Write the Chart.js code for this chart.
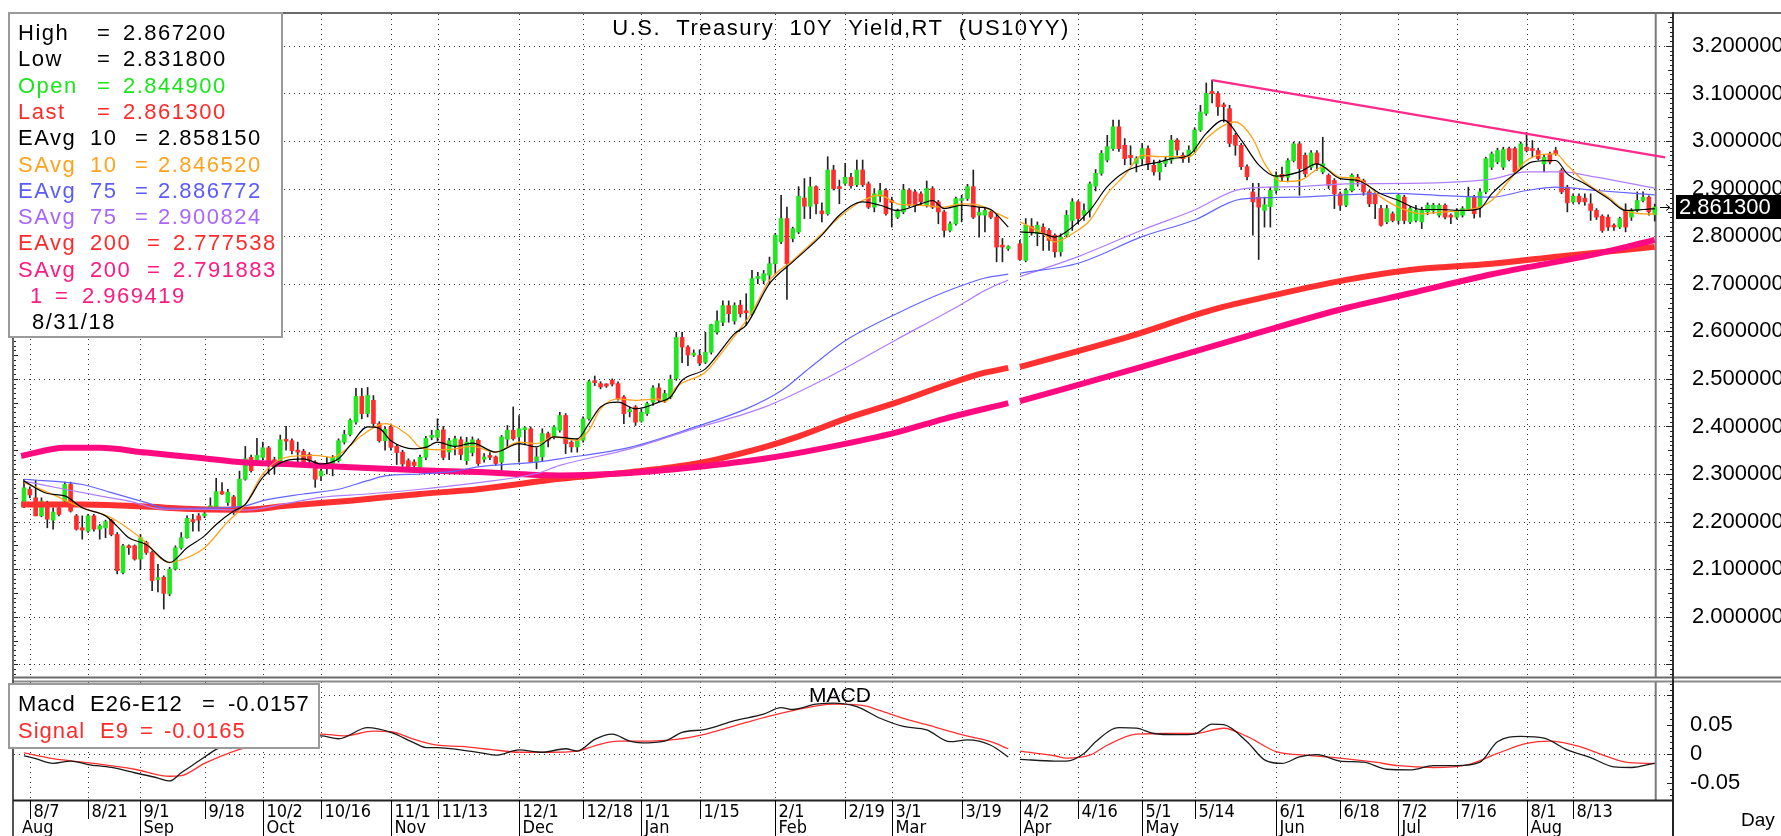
<!DOCTYPE html>
<html>
<head>
<meta charset="utf-8">
<script src="https://cdn.jsdelivr.net/npm/chart.js@4.4.0/dist/chart.umd.min.js"></script>
<style>
html, body { margin: 0; padding: 0; background: #fff; }
#wrap { position: relative; width: 1781px; height: 836px; overflow: hidden; background: #fff; }
canvas { position: absolute; left: 0; }
#main { top: 0; }
#macd { top: 680px; }
</style>
</head>
<body>
<div id="wrap">
  <canvas id="main" width="1781" height="680"></canvas>
  <canvas id="macd" width="1781" height="156"></canvas>
</div>
<script>
// day index 0 = Fri 8/4/2017, one slot per weekday, 280 = 8/31/2018 (170 = 3/30, no data)
var dayTickIdx = [1, 11, 20, 31, 41, 51, 63, 71, 85, 96, 106, 116, 129, 141, 149, 161, 171, 181, 192, 201, 215, 226, 236, 246, 258, 266];
var dayTickLabels = ['8/7', '8/21', '9/1', '9/18', '10/2', '10/16', '11/1', '11/13', '12/1', '12/18', '1/1', '1/15', '2/1', '2/19', '3/1', '3/19', '4/2', '4/16', '5/1', '5/14', '6/1', '6/18', '7/2', '7/16', '8/1', '8/13'];
var monthTickIdx = [-1.7, 20, 41, 63, 85, 106, 129, 149, 171, 192, 215, 236, 258];
var monthLabels = ['Aug', 'Sep', 'Oct', 'Nov', 'Dec', 'Jan', 'Feb', 'Mar', 'Apr', 'May', 'Jun', 'Jul', 'Aug'];
var priceTicks = [2.0, 2.1, 2.2, 2.3, 2.4, 2.5, 2.6, 2.7, 2.8, 2.9, 3.0, 3.1, 3.2];
var priceGrid = [1.9, 2.0, 2.1, 2.2, 2.3, 2.4, 2.5, 2.6, 2.7, 2.8, 2.9, 3.0, 3.1, 3.2];
var macdTicks = [-0.05, 0, 0.05];
var macdGrid = [0, 0.1];

var openV = [
2.231,2.268,2.250,2.212,2.236,2.203,2.229,2.243,2.278,2.212,
2.187,2.180,2.212,2.184,2.187,2.203,2.173,2.093,2.149,2.149,
2.121,2.156,2.135,2.078,2.083,2.048,2.100,2.145,2.166,2.203,
2.212,2.212,2.229,2.229,2.263,2.240,2.252,2.230,2.289,2.335,
2.328,2.335,2.355,2.330,2.328,2.372,2.370,2.350,2.348,2.341,
2.325,2.296,2.318,2.321,2.328,2.367,2.383,2.409,2.463,2.427,
2.455,2.406,2.370,2.399,2.358,2.346,2.328,2.325,2.314,2.335,
2.377,2.377,2.393,2.346,2.358,2.372,2.328,2.345,2.371,2.331,
2.338,2.336,2.325,2.373,2.392,2.378,2.393,2.395,2.325,2.336,
2.385,2.378,2.392,2.423,2.367,2.357,2.371,2.416,2.496,2.490,
2.487,2.497,2.490,2.462,2.431,2.441,2.411,2.427,2.451,2.481,
2.455,2.462,2.501,2.587,2.567,2.550,2.549,2.535,2.556,2.598,
2.619,2.654,2.622,2.655,2.642,2.637,2.711,2.707,2.718,2.742,
2.788,2.837,2.795,2.809,2.880,2.863,2.904,2.853,2.847,2.939,
2.902,2.911,2.924,2.908,2.939,2.910,2.861,2.884,2.896,2.875,
2.840,2.851,2.897,2.893,2.889,2.865,2.900,2.872,2.851,2.812,
2.826,2.875,2.879,2.904,2.844,2.844,2.851,2.840,2.779,2.774,
null,2.784,2.749,2.821,2.805,2.819,2.812,2.802,2.767,2.802,
2.833,2.872,2.844,2.854,2.905,2.932,2.960,2.984,3.030,2.991,
2.970,2.953,2.963,2.984,2.949,2.935,2.953,2.960,3.002,2.970,
2.967,2.981,3.023,3.058,3.104,3.100,3.075,3.068,3.012,2.991,
2.946,2.893,2.882,2.854,2.862,2.896,2.930,2.924,2.959,2.994,
2.970,2.945,2.975,2.935,2.928,2.917,2.889,2.865,2.896,2.924,
2.917,2.893,2.889,2.858,2.830,2.847,2.833,2.882,2.830,2.833,
2.830,2.851,2.854,2.844,2.865,2.842,2.840,2.844,2.858,2.882,
2.861,2.893,2.945,2.956,2.945,2.984,2.984,2.945,2.987,2.981,
2.980,2.952,2.973,2.980,2.938,2.903,2.872,2.884,2.880,2.868,
2.854,2.842,2.840,2.821,2.819,2.854,2.840,2.854,2.875,2.882,
2.8449];
var highV = [
2.289,2.273,2.287,2.250,2.243,2.229,2.236,2.283,2.283,2.215,
2.212,2.215,2.215,2.194,2.203,2.205,2.177,2.152,2.151,2.151,
2.173,2.159,2.138,2.110,2.086,2.104,2.149,2.177,2.212,2.215,
2.217,2.222,2.250,2.291,2.282,2.268,2.255,2.306,2.358,2.340,
2.375,2.367,2.358,2.335,2.382,2.400,2.374,2.367,2.352,2.345,
2.328,2.311,2.335,2.339,2.374,2.392,2.416,2.480,2.480,2.482,
2.465,2.410,2.399,2.405,2.362,2.350,2.332,2.330,2.340,2.379,
2.392,2.416,2.400,2.375,2.380,2.378,2.377,2.378,2.374,2.343,
2.345,2.338,2.381,2.402,2.441,2.423,2.399,2.399,2.355,2.395,
2.388,2.402,2.430,2.427,2.370,2.374,2.420,2.497,2.506,2.494,
2.490,2.500,2.494,2.465,2.441,2.444,2.437,2.451,2.486,2.490,
2.476,2.508,2.598,2.598,2.570,2.561,2.561,2.598,2.615,2.643,
2.664,2.664,2.660,2.665,2.679,2.728,2.724,2.728,2.756,2.806,
2.886,2.861,2.819,2.904,2.921,2.924,2.906,2.870,2.967,2.949,
2.918,2.953,2.932,2.960,2.960,2.914,2.900,2.911,2.900,2.882,
2.857,2.909,2.900,2.897,2.893,2.916,2.904,2.875,2.854,2.830,
2.882,2.886,2.909,2.939,2.861,2.861,2.854,2.847,2.795,2.780,
null,2.791,2.837,2.837,2.830,2.826,2.816,2.805,2.805,2.854,
2.879,2.875,2.868,2.914,2.940,2.980,3.012,3.044,3.044,3.005,
2.990,2.967,2.995,2.990,2.960,2.960,2.967,3.012,3.005,2.975,
2.990,3.028,3.075,3.122,3.128,3.104,3.080,3.075,3.016,2.995,
2.950,2.911,2.911,2.882,2.903,2.935,2.945,2.963,2.998,2.998,
2.975,2.980,2.980,3.008,2.931,2.921,2.893,2.900,2.931,2.930,
2.920,2.896,2.893,2.865,2.865,2.851,2.889,2.886,2.862,2.865,
2.861,2.870,2.869,2.868,2.868,2.847,2.858,2.862,2.903,2.886,
2.900,2.966,2.977,2.985,2.987,2.987,2.987,2.998,3.018,3.001,
2.985,2.970,2.977,2.987,2.942,2.907,2.889,2.889,2.889,2.889,
2.858,2.845,2.845,2.826,2.840,2.868,2.858,2.893,2.893,2.885,
2.8672];
var lowV = [
2.229,2.250,2.212,2.210,2.187,2.184,2.212,2.240,2.220,2.182,
2.163,2.177,2.180,2.163,2.166,2.170,2.090,2.090,2.131,2.119,
2.100,2.131,2.055,2.052,2.016,2.044,2.098,2.142,2.165,2.180,
2.180,2.208,2.226,2.226,2.257,2.234,2.215,2.229,2.287,2.304,
2.323,2.330,2.300,2.300,2.325,2.350,2.342,2.325,2.320,2.318,
2.272,2.286,2.300,2.296,2.325,2.363,2.380,2.405,2.416,2.420,
2.400,2.367,2.350,2.350,2.320,2.316,2.305,2.306,2.310,2.330,
2.372,2.370,2.330,2.330,2.340,2.330,2.320,2.338,2.318,2.325,
2.330,2.318,2.308,2.357,2.371,2.325,2.364,2.325,2.311,2.327,
2.357,2.374,2.388,2.343,2.346,2.346,2.367,2.413,2.486,2.479,
2.482,2.485,2.455,2.406,2.420,2.402,2.409,2.423,2.444,2.451,
2.450,2.458,2.497,2.534,2.528,2.547,2.528,2.532,2.552,2.594,
2.612,2.619,2.615,2.630,2.613,2.634,2.700,2.700,2.700,2.721,
2.784,2.667,2.788,2.805,2.837,2.837,2.847,2.830,2.844,2.897,
2.868,2.907,2.901,2.904,2.904,2.858,2.851,2.872,2.844,2.819,
2.837,2.847,2.861,2.851,2.865,2.861,2.858,2.826,2.798,2.809,
2.823,2.830,2.875,2.837,2.798,2.809,2.837,2.746,2.746,2.770,
null,2.749,2.746,2.802,2.780,2.770,2.770,2.756,2.758,2.798,
2.812,2.826,2.833,2.840,2.895,2.928,2.956,2.980,2.978,2.950,
2.950,2.935,2.950,2.940,2.928,2.918,2.946,2.953,2.970,2.955,
2.955,2.975,3.020,3.054,3.080,3.054,3.040,2.988,2.970,2.940,
2.918,2.802,2.751,2.819,2.819,2.890,2.915,2.914,2.956,2.886,
2.925,2.940,2.938,2.931,2.900,2.858,2.854,2.862,2.893,2.905,
2.886,2.862,2.837,2.821,2.826,2.830,2.826,2.826,2.826,2.830,
2.816,2.845,2.848,2.840,2.836,2.826,2.836,2.840,2.854,2.838,
2.840,2.889,2.940,2.952,2.940,2.958,2.931,2.942,2.977,2.966,
2.960,2.935,2.952,2.970,2.889,2.851,2.869,2.868,2.865,2.833,
2.835,2.808,2.812,2.812,2.816,2.809,2.833,2.851,2.872,2.844,
2.8318];
var closeV = [
2.271,2.256,2.212,2.243,2.205,2.220,2.215,2.278,2.222,2.184,
2.182,2.212,2.184,2.191,2.200,2.173,2.097,2.149,2.145,2.121,
2.166,2.135,2.076,2.081,2.049,2.100,2.145,2.166,2.207,2.200,
2.203,2.215,2.232,2.263,2.258,2.262,2.231,2.289,2.332,2.307,
2.339,2.355,2.327,2.315,2.372,2.369,2.349,2.346,2.325,2.328,
2.289,2.306,2.321,2.335,2.370,2.383,2.413,2.463,2.427,2.465,
2.406,2.370,2.394,2.356,2.345,2.321,2.314,2.318,2.335,2.375,
2.380,2.392,2.335,2.370,2.374,2.341,2.367,2.372,2.322,2.336,
2.335,2.322,2.378,2.392,2.374,2.395,2.395,2.325,2.336,2.385,
2.371,2.399,2.423,2.364,2.357,2.371,2.416,2.494,2.492,2.483,
2.485,2.489,2.458,2.427,2.434,2.409,2.430,2.448,2.481,2.455,
2.469,2.499,2.587,2.567,2.550,2.552,2.533,2.556,2.614,2.622,
2.654,2.637,2.654,2.637,2.639,2.711,2.714,2.721,2.742,2.802,
2.837,2.742,2.816,2.884,2.863,2.904,2.868,2.847,2.939,2.900,
2.900,2.924,2.906,2.939,2.908,2.861,2.889,2.896,2.847,2.871,
2.854,2.897,2.865,2.865,2.872,2.900,2.861,2.851,2.812,2.826,
2.879,2.879,2.904,2.840,2.850,2.854,2.840,2.777,2.777,2.776,
null,2.751,2.823,2.809,2.823,2.805,2.791,2.767,2.798,2.844,
2.872,2.837,2.854,2.910,2.932,2.974,2.988,3.030,2.984,2.963,
2.965,2.963,2.984,2.953,2.935,2.953,2.960,3.002,2.981,2.963,
2.981,3.023,3.061,3.100,3.100,3.072,3.072,2.995,2.991,2.946,
2.925,2.872,2.861,2.866,2.896,2.928,2.924,2.959,2.994,2.942,
2.931,2.975,2.952,2.952,2.907,2.889,2.865,2.896,2.928,2.914,
2.893,2.868,2.868,2.823,2.858,2.833,2.886,2.833,2.858,2.854,
2.854,2.865,2.865,2.865,2.840,2.840,2.854,2.858,2.882,2.847,
2.893,2.963,2.973,2.980,2.982,2.961,2.935,2.994,2.980,2.980,
2.963,2.966,2.956,2.973,2.893,2.870,2.884,2.872,2.872,2.854,
2.840,2.812,2.819,2.819,2.837,2.819,2.854,2.875,2.882,2.851,
2.8613];

// moving averages as [day, value]
var ema10Pts = [[0,2.285],[4,2.259],[7,2.254],[10,2.229],[14,2.212],[16,2.19],[18,2.166],[21,2.152],[25,2.114],[28,2.145],[31,2.17],[33,2.194],[36,2.222],[38,2.236],[41,2.293],[45,2.328],[48,2.332],[51,2.321],[54,2.332],[56,2.36],[59,2.399],[61,2.396],[63,2.37],[67,2.353],[69,2.356],[71,2.367],[74,2.358],[77,2.365],[81,2.346],[85,2.364],[88,2.357],[91,2.378],[95,2.374],[97,2.406],[99,2.441],[102,2.451],[105,2.437],[109,2.451],[111,2.462],[113,2.497],[117,2.521],[119,2.549],[122,2.595],[124,2.613],[128,2.7],[132,2.746],[137,2.802],[140,2.844],[144,2.872],[147,2.865],[150,2.854],[154,2.868],[156,2.875],[158,2.858],[161,2.865],[164,2.861],[166,2.856],[169,2.819],[170,null],[171,2.809],[175,2.805],[177,2.798],[180,2.819],[183,2.854],[186,2.904],[189,2.935],[192,2.949],[195,2.956],[197,2.963],[200,2.97],[203,3.016],[206,3.044],[209,3.002],[212,2.95],[215,2.926],[219,2.935],[222,2.952],[226,2.921],[229,2.917],[233,2.889],[236,2.875],[240,2.856],[243,2.856],[247,2.854],[250,2.858],[252,2.889],[256,2.931],[259,2.956],[263,2.959],[265,2.931],[268,2.91],[272,2.879],[275,2.854],[278,2.856],[280,2.858]];
var sma10Pts = [[0,2.282],[4,2.262],[10,2.229],[15,2.208],[20,2.166],[25,2.114],[28,2.124],[31,2.145],[35,2.2],[38,2.236],[41,2.3],[45,2.335],[50,2.339],[53,2.335],[55,2.349],[58,2.381],[62,2.406],[66,2.381],[68,2.356],[71,2.351],[74,2.353],[77,2.358],[81,2.346],[85,2.367],[88,2.364],[91,2.378],[95,2.371],[97,2.392],[99,2.437],[102,2.458],[105,2.455],[109,2.458],[110,2.451],[112,2.483],[117,2.514],[119,2.542],[122,2.59],[125,2.64],[128,2.707],[132,2.749],[137,2.805],[140,2.84],[144,2.875],[147,2.886],[150,2.868],[154,2.865],[158,2.861],[161,2.868],[164,2.865],[166,2.854],[169,2.837],[170,null],[171,2.83],[175,2.805],[177,2.788],[180,2.805],[183,2.833],[186,2.889],[189,2.928],[192,2.97],[195,2.967],[200,2.967],[203,3.005],[206,3.033],[208,3.04],[211,3.005],[213,2.953],[216,2.915],[219,2.917],[223,2.945],[226,2.924],[229,2.921],[233,2.882],[236,2.861],[240,2.847],[243,2.85],[247,2.854],[250,2.861],[252,2.875],[255,2.917],[258,2.959],[263,2.973],[265,2.949],[268,2.914],[272,2.882],[275,2.854],[278,2.847],[280,2.8465]];
var ema75Pts = [[0,2.289],[10,2.278],[15,2.261],[21,2.24],[24,2.229],[27,2.228],[33,2.229],[38,2.233],[41,2.244],[48,2.258],[54,2.268],[59,2.286],[62,2.296],[68,2.3],[74,2.306],[78,2.315],[88,2.325],[92,2.332],[104,2.356],[115,2.398],[124,2.437],[130,2.475],[135,2.524],[141,2.58],[150,2.638],[158,2.682],[165,2.712],[169,2.72],[170,null],[171,2.722],[181,2.743],[192,2.799],[201,2.834],[209,2.878],[218,2.882],[227,2.887],[235,2.89],[244,2.885],[252,2.882],[258,2.896],[263,2.903],[270,2.896],[280,2.8868]];
var sma75Pts = [[0,2.285],[7,2.268],[13,2.254],[18,2.243],[24,2.226],[30,2.226],[38,2.224],[45,2.238],[51,2.251],[59,2.258],[68,2.268],[78,2.282],[88,2.301],[92,2.318],[104,2.353],[115,2.395],[127,2.44],[138,2.503],[150,2.584],[161,2.657],[165,2.686],[169,2.708],[170,null],[171,2.715],[181,2.757],[192,2.813],[201,2.855],[209,2.899],[218,2.904],[227,2.91],[238,2.911],[252,2.92],[258,2.935],[264,2.935],[270,2.924],[280,2.9008]];
var ema200Pts = [[-0.5,2.236],[10,2.236],[20,2.232],[30,2.226],[38,2.225],[45,2.233],[56,2.244],[68,2.258],[78,2.268],[92,2.29],[104,2.304],[115,2.321],[127,2.356],[133,2.379],[141,2.416],[150,2.451],[158,2.486],[164,2.51],[169,2.523],[170,null],[171,2.525],[190,2.59],[204,2.645],[215,2.677],[227,2.708],[238,2.729],[252,2.742],[264,2.758],[280,2.7775]];
var sma200Pts = [[-0.5,2.338],[7,2.355],[13,2.355],[21,2.345],[30,2.334],[38,2.324],[45,2.321],[56,2.314],[68,2.308],[78,2.304],[92,2.297],[104,2.302],[115,2.314],[127,2.332],[138,2.356],[150,2.388],[158,2.416],[169,2.449],[170,null],[171,2.453],[191,2.522],[210,2.59],[227,2.649],[238,2.68],[252,2.72],[269,2.76],[280,2.7919]];
var trendPts = [[204,3.128],[281.8,2.9656]];
var macdPts = [[0,-0.003],[2,-0.008],[5,-0.016],[8,-0.012],[11,-0.018],[15,-0.023],[19,-0.032],[23,-0.041],[25,-0.046],[27,-0.032],[30,-0.012],[33,0.008],[36,0.022],[40,0.033],[44,0.032],[48,0.028],[51,0.031],[54,0.026],[59,0.045],[63,0.037],[67,0.019],[69,0.011],[71,0.011],[75,0.007],[79,0.001],[81,-0.002],[85,0.007],[89,0.003],[93,0.009],[95,0.005],[98,0.025],[101,0.034],[104,0.022],[106,0.019],[110,0.022],[113,0.037],[117,0.042],[122,0.057],[127,0.068],[130,0.079],[132,0.076],[136,0.085],[139,0.087],[143,0.081],[147,0.061],[151,0.047],[155,0.041],[159,0.021],[162,0.024],[166,0.015],[169,-0.005],[170,null],[171,-0.009],[177,-0.012],[179,-0.012],[182,0.001],[184,0.021],[188,0.045],[191,0.044],[194,0.035],[198,0.033],[201,0.034],[204,0.051],[206,0.05],[210,0.021],[213,-0.01],[216,-0.016],[219,-0.005],[222,-0.001],[226,-0.012],[230,-0.014],[234,-0.026],[238,-0.027],[242,-0.02],[246,-0.02],[250,-0.014],[253,0.021],[257,0.03],[261,0.027],[265,0.007],[269,-0.006],[273,-0.022],[276,-0.023],[280,-0.0157]];
var signalPts = [[0,0.002],[5,-0.008],[12,-0.016],[19,-0.026],[25,-0.038],[27,-0.037],[31,-0.016],[37,0.008],[42,0.02],[47,0.028],[51,0.034],[55,0.031],[60,0.039],[63,0.038],[67,0.025],[71,0.015],[75,0.013],[80,0.008],[85,0.003],[90,0.003],[95,0.005],[98,0.014],[102,0.022],[106,0.022],[112,0.025],[117,0.034],[124,0.054],[132,0.074],[139,0.085],[144,0.083],[147,0.074],[151,0.061],[155,0.05],[161,0.033],[166,0.021],[169,0.009],[170,null],[171,0.005],[177,-0.003],[179,-0.007],[183,-0.002],[186,0.015],[191,0.034],[196,0.035],[201,0.035],[206,0.044],[210,0.03],[215,0.004],[220,-0.002],[226,-0.007],[232,-0.014],[236,-0.02],[242,-0.023],[248,-0.018],[253,0.001],[258,0.018],[262,0.022],[267,0.013],[272,-0.005],[275,-0.014],[280,-0.0165]];

var lastDay = 280;
var lastPrice = 2.8613;

var FAM = '"Liberation Sans", Arial, Helvetica, sans-serif';
var NARROW = '"Liberation Sans Narrow", "Arial Narrow", "DejaVu Sans Condensed", sans-serif';
var GREEN = '#22e622', RED = '#ff2d2d';
var X_MIN = -1.717, X_MAX = 283.14;

function pts(pairs) {
  return pairs.map(function (p) { return { x: p[0], y: p[1] }; });
}
function lineDs(pairs, color, width, order) {
  return {
    type: 'line', data: pts(pairs), borderColor: color, backgroundColor: color,
    borderWidth: width, pointRadius: 0, cubicInterpolationMode: 'monotone',
    spanGaps: false, order: order
  };
}

// candles as floating bars
var wickData = [], bodyData = [], bodyColors = [];
for (var i = 0; i < openV.length; i++) {
  if (openV[i] === null) continue;
  wickData.push({ x: i, y: [lowV[i], highV[i]] });
  bodyData.push({ x: i, y: [openV[i], closeV[i]] });
  bodyColors.push(closeV[i] >= openV[i] ? GREEN : RED);
}

function hLine(ctx, x1, x2, y) { ctx.beginPath(); ctx.moveTo(x1, y); ctx.lineTo(x2, y); ctx.stroke(); }
function vLine(ctx, x, y1, y2) { ctx.beginPath(); ctx.moveTo(x, y1); ctx.lineTo(x, y2); ctx.stroke(); }
function px(v) { return Math.round(v) + 0.5; }
function spacing(ctx, s) { if ('letterSpacing' in ctx) ctx.letterSpacing = s; }

var mainOverlay = {
  id: 'mainOverlay',
  beforeDatasetsDraw: function (chart) {
    var ctx = chart.ctx, a = chart.chartArea, xs = chart.scales.x, ys = chart.scales.y;
    ctx.save();
    ctx.strokeStyle = '#333'; ctx.lineWidth = 1; ctx.setLineDash([1, 4]);
    priceGrid.forEach(function (v) { hLine(ctx, a.left, a.right, px(ys.getPixelForValue(v))); });
    dayTickIdx.forEach(function (d) { vLine(ctx, px(xs.getPixelForValue(d)), a.top, a.bottom); });
    ctx.setLineDash([]);
    ctx.strokeStyle = '#7a7a7a'; ctx.lineWidth = 2;
    vLine(ctx, xs.getPixelForValue(lastDay) + 1, a.top, a.bottom);
    ctx.restore();
  },
  afterDraw: function (chart) {
    var ctx = chart.ctx, a = chart.chartArea, ys = chart.scales.y;
    ctx.save();
    // frame
    ctx.strokeStyle = '#6a6a6a'; ctx.lineWidth = 2;
    hLine(ctx, 12, 1781, 13);
    vLine(ctx, 13, 12, 680);
    hLine(ctx, 12, 1781, 677.5);
    ctx.strokeStyle = '#333';
    vLine(ctx, a.right, 12, 680);
    // rulers
    ctx.lineWidth = 1; ctx.strokeStyle = '#222';
    for (var k = 188; k <= 326; k++) {
      var yy = px(ys.getPixelForValue(k / 100));
      var len = (k % 10 === 0) ? 7 : (k % 5 === 0 ? 5 : 3);
      hLine(ctx, a.right - len, a.right, yy);
      hLine(ctx, a.left, a.left + (k % 5 === 0 ? 4 : 2), yy);
    }
    // title
    ctx.fillStyle = '#000'; ctx.font = '22px ' + FAM; ctx.textAlign = 'center'; ctx.textBaseline = 'alphabetic';
    spacing(ctx, '1.5px');
    ctx.fillText('U.S.  Treasury  10Y  Yield,RT  (US10YY)', 841, 35);
    // legend box
    ctx.fillStyle = '#fff'; ctx.fillRect(8, 12, 274, 325);
    ctx.strokeStyle = '#9a9a9a'; ctx.lineWidth = 2; ctx.strokeRect(9, 13, 273, 324);
    var rows = [
      [[['High', 18], ['=', 97], ['2.867200', 123]], '#000'],
      [[['Low', 18], ['=', 97], ['2.831800', 123]], '#000'],
      [[['Open', 18], ['=', 97], ['2.844900', 123]], '#19e619'],
      [[['Last', 18], ['=', 97], ['2.861300', 123]], '#ff2a2a'],
      [[['EAvg', 18], ['10', 90], ['=', 135], ['2.858150', 158]], '#000'],
      [[['SAvg', 18], ['10', 90], ['=', 135], ['2.846520', 158]], '#ffa31a'],
      [[['EAvg', 18], ['75', 90], ['=', 135], ['2.886772', 158]], '#5a5aff'],
      [[['SAvg', 18], ['75', 90], ['=', 135], ['2.900824', 158]], '#a866ff'],
      [[['EAvg', 18], ['200', 90], ['=', 147], ['2.777538', 173]], '#ff2a2a'],
      [[['SAvg', 18], ['200', 90], ['=', 147], ['2.791883', 173]], '#ff1a80'],
      [[['1', 30], ['=', 55], ['2.969419', 82]], '#ff1a80'],
      [[['8/31/18', 32]], '#000']
    ];
    ctx.textAlign = 'left'; ctx.font = '22px ' + FAM;
    rows.forEach(function (r, n) {
      ctx.fillStyle = r[1];
      r[0].forEach(function (s) { ctx.fillText(s[0], s[1], 40 + n * 26.3); });
    });
    // last price box and arrow
    spacing(ctx, '0px');
    var yp = ys.getPixelForValue(lastPrice);
    ctx.fillStyle = '#000'; ctx.fillRect(1676, yp - 12, 105, 24);
    ctx.fillStyle = '#fff'; ctx.font = '22px ' + FAM; ctx.textBaseline = 'middle';
    ctx.fillText('2.861300', 1679, yp + 1);
    ctx.strokeStyle = '#000'; ctx.lineWidth = 1;
    hLine(ctx, 1660, 1669, px(yp));
    ctx.beginPath(); ctx.moveTo(1670, px(yp)); ctx.lineTo(1666, px(yp) - 3); ctx.moveTo(1670, px(yp)); ctx.lineTo(1666, px(yp) + 3); ctx.stroke();
    ctx.restore();
  }
};

var macdOverlay = {
  id: 'macdOverlay',
  beforeDatasetsDraw: function (chart) {
    var ctx = chart.ctx, a = chart.chartArea, xs = chart.scales.x, ys = chart.scales.y;
    ctx.save();
    ctx.strokeStyle = '#333'; ctx.lineWidth = 1; ctx.setLineDash([1, 4]);
    macdGrid.forEach(function (v) { hLine(ctx, a.left, a.right, px(ys.getPixelForValue(v))); });
    dayTickIdx.forEach(function (d) { vLine(ctx, px(xs.getPixelForValue(d)), a.top, a.bottom); });
    ctx.setLineDash([]);
    ctx.strokeStyle = '#7a7a7a'; ctx.lineWidth = 2;
    vLine(ctx, xs.getPixelForValue(lastDay) + 1, a.top, a.bottom);
    ctx.restore();
  },
  afterDraw: function (chart) {
    var ctx = chart.ctx, a = chart.chartArea, xs = chart.scales.x, ys = chart.scales.y;
    ctx.save();
    ctx.strokeStyle = '#8a8a8a'; ctx.lineWidth = 2;
    hLine(ctx, 12, 1781, 1.5);
    ctx.strokeStyle = '#555';
    vLine(ctx, 13, 0, 156);
    ctx.strokeStyle = '#222';
    vLine(ctx, a.right, 0, 156);
    hLine(ctx, 13, a.right, a.bottom + 0.5);
    // ruler on right axis
    ctx.lineWidth = 1;
    for (var k = -7; k <= 12; k++) {
      var yy = px(ys.getPixelForValue(k / 100));
      hLine(ctx, a.right - (k % 5 === 0 ? 6 : 3), a.right, yy);
    }
    // MACD title
    ctx.fillStyle = '#000'; ctx.font = '21px ' + FAM; ctx.textAlign = 'center';
    ctx.fillText('MACD', 840, 22);
    // legend
    ctx.fillStyle = '#fff'; ctx.fillRect(8, 3, 311, 65);
    ctx.strokeStyle = '#9a9a9a'; ctx.lineWidth = 2; ctx.strokeRect(9, 4, 310, 64);
    ctx.textAlign = 'left'; ctx.font = '22px ' + FAM;
    spacing(ctx, '1px');
    ctx.fillStyle = '#000';
    ctx.fillText('Macd', 18, 31); ctx.fillText('E26-E12', 90, 31); ctx.fillText('=', 202, 31); ctx.fillText('-0.0157', 228, 31);
    ctx.fillStyle = '#ff2a2a';
    ctx.fillText('Signal', 18, 58); ctx.fillText('E9', 100, 58); ctx.fillText('=', 140, 58); ctx.fillText('-0.0165', 164, 58);
    spacing(ctx, '0px');
    // x axis labels
    ctx.fillStyle = '#000'; ctx.strokeStyle = '#000'; ctx.lineWidth = 1;
    ctx.font = '18px ' + NARROW;
    dayTickIdx.forEach(function (d, n) {
      var x = px(xs.getPixelForValue(d));
      vLine(ctx, x, a.bottom, a.bottom + 19);
      ctx.fillText(dayTickLabels[n], x + 3, a.bottom + 17);
    });
    monthTickIdx.forEach(function (d, n) {
      var x = px(xs.getPixelForValue(d));
      if (n > 0) vLine(ctx, x, a.bottom, 156);
      ctx.fillText(monthLabels[n], n === 0 ? 22 : x + 3, 153);
    });
    ctx.font = '19px ' + FAM;
    ctx.fillText('Day', 1741, 146);
    ctx.restore();
  }
};

function noPad(s) { s.width = 108; s.paddingTop = 0; s.paddingBottom = 0; }

new Chart(document.getElementById('main'), {
  type: 'bar',
  data: {
    datasets: [
      { type: 'bar', data: wickData, backgroundColor: '#222', barThickness: 1, grouped: false, order: 10 },
      { type: 'bar', data: bodyData, backgroundColor: bodyColors, barThickness: 4, grouped: false, minBarLength: 2, order: 9 },
      lineDs(ema200Pts, '#ff3030', 6, 8),
      lineDs(sma200Pts, '#ff0a80', 6, 7),
      lineDs(sma75Pts, '#b07cff', 1.2, 6),
      lineDs(ema75Pts, '#6464ff', 1.2, 5),
      Object.assign(lineDs(trendPts, '#ff2a8a', 2.5, 4), { cubicInterpolationMode: 'default', tension: 0 }),
      lineDs(sma10Pts, '#ffa31a', 1.3, 3),
      lineDs(ema10Pts, '#000000', 1.2, 2)
    ]
  },
  options: {
    responsive: false, animation: false, events: [],
    layout: { padding: { left: 14, top: 14, bottom: 3, right: 0 } },
    plugins: { legend: { display: false }, tooltip: { enabled: false } },
    scales: {
      x: { type: 'linear', min: X_MIN, max: X_MAX, offset: false, display: false },
      y: {
        type: 'linear', position: 'right', min: 1.8733, max: 3.267, beginAtZero: false,
        grid: { display: false }, border: { display: false },
        ticks: { color: '#000', font: { size: 22, family: FAM }, padding: 11,
          callback: function (v) { return Number(v).toFixed(6); } },
        afterBuildTicks: function (s) { s.ticks = priceTicks.map(function (v) { return { value: v }; }); },
        afterFit: noPad
      }
    }
  },
  plugins: [mainOverlay]
});

new Chart(document.getElementById('macd'), {
  type: 'line',
  data: {
    datasets: [
      lineDs(signalPts, '#ff3030', 1.3, 2),
      lineDs(macdPts, '#1a1a1a', 1.3, 1)
    ]
  },
  options: {
    responsive: false, animation: false, events: [],
    layout: { padding: { left: 14, top: 2, bottom: 36, right: 0 } },
    plugins: { legend: { display: false }, tooltip: { enabled: false } },
    scales: {
      x: { type: 'linear', min: X_MIN, max: X_MAX, offset: false, display: false },
      y: {
        type: 'linear', position: 'right', min: -0.0785, max: 0.1229,
        grid: { display: false }, border: { display: false },
        ticks: { color: '#000', font: { size: 22, family: FAM }, padding: 9,
          callback: function (v) { return v === 0 ? '0' : Number(v).toFixed(2); } },
        afterBuildTicks: function (s) { s.ticks = macdTicks.map(function (v) { return { value: v }; }); },
        afterFit: noPad
      }
    }
  },
  plugins: [macdOverlay]
});
</script>
</body>
</html>
